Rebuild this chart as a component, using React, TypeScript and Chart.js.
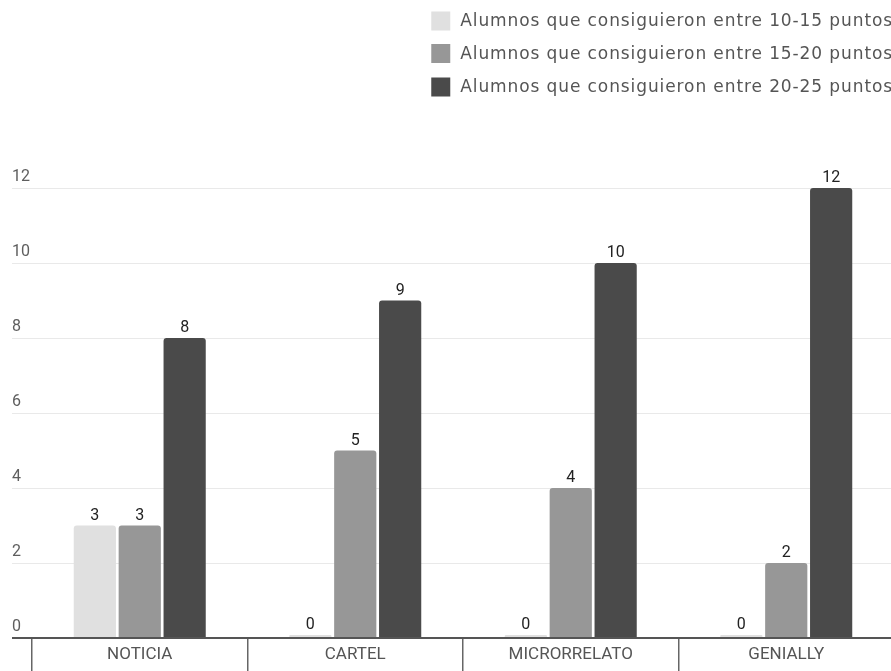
import { useEffect, useRef } from "react";
import { Chart, registerables } from "chart.js";

Chart.register(...registerables);

const categories = ["NOTICIA", "CARTEL", "MICRORRELATO", "GENIALLY"];
const seriesNames = [
  "Alumnos que consiguieron entre 10-15 puntos",
  "Alumnos que consiguieron entre 15-20 puntos",
  "Alumnos que consiguieron entre 20-25 puntos",
];
const values10to15 = [3, 0, 0, 0];
const values15to20 = [3, 5, 4, 2];
const values20to25 = [8, 9, 10, 12];
const yTickValues = [0, 2, 4, 6, 8, 10, 12];
const seriesColors = ["#e0e0e0", "#979797", "#4a4a4a"];

const AXIS_FONT = "Roboto, 'Open Sans', sans-serif";
const LEGEND_FONT = "'DejaVu Sans', 'Open Sans', sans-serif";

export default function App() {
  const ref = useRef<HTMLCanvasElement | null>(null);

  useEffect(() => {
    if (!ref.current) return;

    const customLegend = {
      id: "customLegend",
      afterDraw(chart: any) {
        const ctx = chart.ctx;
        ctx.save();
        ctx.font = `17px ${LEGEND_FONT}`;
        (ctx as any).letterSpacing = "0.9px";
        ctx.textAlign = "left";
        ctx.textBaseline = "middle";
        const right = 885;
        const rowCenters = [13, 45.5, 79];
        chart.data.datasets.forEach((ds: any, i: number) => {
          const w = ctx.measureText(ds.label).width;
          const tx = right - w;
          const cy = rowCenters[i];
          ctx.fillStyle = ds.backgroundColor;
          ctx.fillRect(tx - 10 - 19, cy - 9.5, 19, 19);
          ctx.fillStyle = "#555";
          ctx.fillText(ds.label, tx, cy + 1);
        });
        ctx.restore();
      },
    };

    const yLabels = {
      id: "yLabels",
      afterDraw(chart: any) {
        const ctx = chart.ctx;
        const s = chart.scales.y;
        ctx.save();
        ctx.font = `16px ${AXIS_FONT}`;
        ctx.fillStyle = "#5e5e5e";
        ctx.textAlign = "left";
        ctx.textBaseline = "alphabetic";
        yTickValues.forEach((v) => {
          ctx.fillText(String(v), s.left, s.getPixelForValue(v) - 7);
        });
        ctx.restore();
      },
    };

    const dataLabels = {
      id: "dataLabels",
      afterDatasetsDraw(chart: any) {
        const ctx = chart.ctx;
        ctx.save();
        ctx.font = `16px ${AXIS_FONT}`;
        ctx.fillStyle = "#222";
        ctx.textAlign = "center";
        ctx.textBaseline = "alphabetic";
        chart.data.datasets.forEach((ds: any, di: number) => {
          const meta = chart.getDatasetMeta(di);
          meta.data.forEach((bar: any, i: number) => {
            ctx.fillText(String(ds.data[i]), bar.x, bar.y - 6);
          });
        });
        ctx.restore();
      },
    };

    const chart = new Chart(ref.current, {
      type: "bar",
      data: {
        labels: categories,
        datasets: [values10to15, values15to20, values20to25].map((vals, i) => ({
          label: seriesNames[i],
          data: vals,
          backgroundColor: seriesColors[i],
          borderWidth: 0,
          borderRadius: { topLeft: 3, topRight: 3 },
          borderSkipped: "bottom",
          minBarLength: 3,
          barPercentage: 0.94,
          categoryPercentage: 0.625,
        })),
      },
      options: {
        responsive: false,
        animation: false,
        layout: { padding: { left: 4, right: 4, top: 180, bottom: 0 } },
        plugins: {
          tooltip: { enabled: false },
          legend: { display: false },
        },
        scales: {
          x: {
            grid: {
              offset: true,
              drawOnChartArea: false,
              drawTicks: true,
              tickLength: 40,
              color: "#666",
              lineWidth: 1.5,
            },
            border: { display: false },
            ticks: {
              color: "#555",
              font: { family: AXIS_FONT, size: 17 },
              padding: -33,
              autoSkip: false,
              maxRotation: 0,
            },
            afterFit: (s: any) => {
              s.height = 40;
            },
          },
          y: {
            min: 0,
            max: 12,
            ticks: { stepSize: 2, display: false },
            grid: {
              drawTicks: true,
              tickLength: 20,
              color: (c: any) => (c.tick && c.tick.value === 0 ? "#555" : "#e9e9e9"),
              lineWidth: (c: any) => (c.tick && c.tick.value === 0 ? 2 : 1),
            },
            border: { display: false },
            afterFit: (s: any) => {
              s.width = 20;
            },
          },
        },
      },
      plugins: [customLegend, yLabels, dataLabels],
    });

    return () => chart.destroy();
  }, []);

  return (
    <div style={{ position: "fixed", left: 0, top: 0, width: 891, height: 671, overflow: "hidden", background: "#fff" }}>
      <canvas
        ref={ref}
        width={890}
        height={670}
        style={{ position: "absolute", left: 8, top: 8 }}
      />
    </div>
  );
}
